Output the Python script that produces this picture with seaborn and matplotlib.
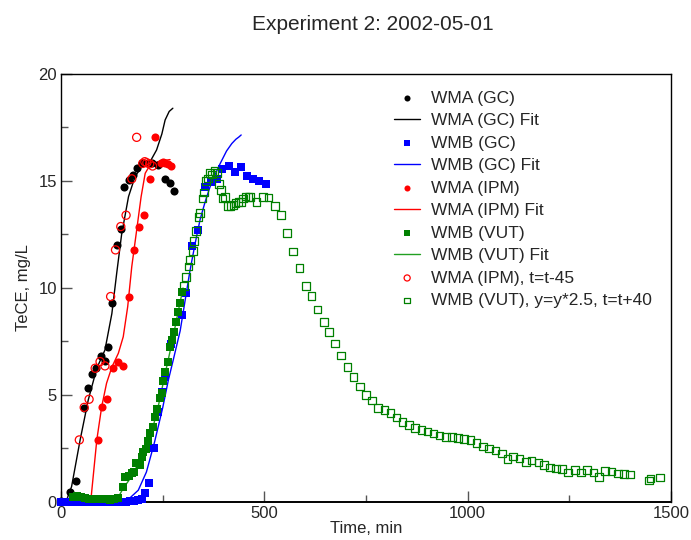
import numpy as np
import pandas as pd
import matplotlib
matplotlib.use("Agg")
import matplotlib.pyplot as plt
import seaborn as sns
from matplotlib.ticker import MultipleLocator

# ---- data ----
wma_gc_t = [0, 22, 36, 57, 66, 75, 85, 98, 108, 116, 126, 137, 147, 156, 166, 178, 186, 200, 215, 224, 239, 256, 268, 278]
wma_gc_y = [0.05, 0.45, 0.97, 4.38, 5.31, 6.0, 6.25, 6.8, 6.6, 7.26, 9.31, 12.0, 12.76, 14.7, 15.05, 15.28, 15.6, 15.82, 15.82, 15.85, 15.75, 15.1, 14.9, 14.53]

wma_gc_fit_t = [10, 14, 26, 47, 67, 88, 108, 125, 137, 149, 166, 182, 198, 219, 235, 248, 256, 266, 275]
wma_gc_fit_y = [0.0, 0.1, 0.72, 2.9, 4.77, 6.25, 7.1, 8.8, 10.7, 12.5, 14.27, 15.2, 15.67, 15.9, 16.45, 17.2, 17.85, 18.25, 18.4]

wmb_gc_t = [0, 10, 20, 30, 40, 50, 60, 70, 80, 90, 100, 110, 120, 130, 140, 150, 160, 170, 180, 190, 198,
            207, 217, 228, 239, 248, 256, 264, 270, 278, 297, 308, 321, 338, 354, 368, 383, 397, 413, 428, 443, 458, 473, 488, 503]
wmb_gc_y = [0.02, 0.02, 0.02, 0.02, 0.02, 0.02, 0.02, 0.02, 0.02, 0.02, 0.02, 0.02, 0.02, 0.02, 0.02, 0.02, 0.02, 0.05, 0.05, 0.1, 0.15,
            0.4, 0.9, 2.54, 4.22, 5.16, 5.86, 6.56, 7.4, 7.96, 8.74, 9.75, 11.96, 12.7, 14.73, 14.97, 15.08, 15.55, 15.7, 15.43, 15.64, 15.23, 15.08, 15.0, 14.85]

wmb_gc_fit_t = [150, 170, 190, 210, 230, 250, 264, 276, 293, 305, 317, 330, 342, 354, 366, 380, 391, 407, 420, 430, 437, 443]
wmb_gc_fit_y = [0.0, 0.2, 0.55, 1.4, 2.8, 4.4, 5.7, 6.64, 8.0, 9.4, 10.8, 12.1, 13.2, 14.0, 14.7, 15.35, 15.8, 16.4, 16.75, 16.95, 17.05, 17.15]

wma_ipm_t = [90, 102, 114, 129, 141, 153, 167, 179, 192, 205, 219, 231, 246, 251, 256, 263, 270]
wma_ipm_y = [2.9, 4.42, 4.8, 6.25, 6.56, 6.36, 9.6, 11.78, 12.87, 13.4, 15.1, 17.04, 15.82, 15.9, 15.85, 15.8, 15.7]

wma_ipm_fit_t = [73, 75, 88, 100, 112, 125, 141, 153, 164, 174, 186, 197, 207, 219, 231, 250, 268]
wma_ipm_fit_y = [0.0, 0.4, 2.9, 4.45, 5.55, 6.3, 6.95, 7.72, 9.13, 11.0, 12.7, 14.27, 15.36, 15.75, 15.86, 15.95, 16.0]

wmb_vut_t = [30, 40, 50, 60, 70, 80, 90, 100, 110, 120, 130, 140, 152, 157, 166, 174, 180, 184, 193, 198, 202, 209, 213,
             219, 225, 231, 237, 243, 248, 252, 256, 262, 268, 272, 278, 282, 287, 293, 297]
wmb_vut_y = [0.25, 0.28, 0.22, 0.18, 0.15, 0.12, 0.12, 0.12, 0.12, 0.1, 0.15, 0.2, 0.7, 1.18, 1.21, 1.34, 1.42, 1.84, 1.71, 2.12, 2.35, 2.46, 2.86,
             3.24, 3.49, 3.99, 4.33, 4.85, 5.11, 5.67, 6.09, 6.56, 7.26, 7.57, 7.96, 8.43, 8.89, 9.28, 9.83]

wmb_vut_fit_t = [128, 140, 153, 174, 194, 210, 225, 240, 255, 270, 285, 300]
wmb_vut_fit_y = [0.0, 0.2, 0.64, 1.2, 1.96, 2.6, 3.4, 4.55, 5.9, 7.2, 8.6, 10.0]

wma_ipm45_t = [45, 57, 69, 84, 96, 108, 122, 134, 147, 160, 174, 186, 201, 206, 211, 218, 225]
wma_ipm45_y = [2.9, 4.42, 4.8, 6.25, 6.56, 6.36, 9.6, 11.78, 12.87, 13.4, 15.1, 17.04, 15.82, 15.9, 15.85, 15.8, 15.7]

wmb_vut40_t = [302, 307, 313, 317, 324, 327, 332, 338, 342, 348, 352, 357, 362, 366, 372, 377, 383, 388, 393, 397, 403,
               411, 417, 424, 429, 436, 443, 448, 454, 461, 465, 481, 496, 510, 526, 541, 556, 571, 586, 602, 616, 631, 647, 659,
               674, 689, 704, 719, 735, 750, 765, 780, 795, 810, 825, 840, 855, 870, 886, 901, 916, 931, 946, 961, 976, 991,
               1007, 1022, 1037, 1053, 1068, 1084, 1098, 1112, 1127, 1143, 1157, 1174, 1188, 1202, 1217, 1232, 1247, 1264,
               1278, 1294, 1309, 1323, 1338, 1354, 1369, 1384, 1399, 1446, 1450, 1473]
wmb_vut40_y = [10.1, 10.5, 11.0, 11.3, 11.73, 12.2, 12.66, 13.33, 13.49, 14.19, 14.47, 15.0, 15.12, 15.36, 15.31, 15.47, 15.36, 14.85, 14.58, 14.19, 14.24,
               13.83, 13.83, 13.88, 13.96, 14.03, 14.03, 14.19, 14.27, 14.24, 14.24, 14.03, 14.24, 14.22, 13.83, 13.41, 12.56, 11.7, 10.92, 10.09, 9.63, 9.0, 8.4, 7.93,
               7.4, 6.85, 6.3, 5.85, 5.4, 5.0, 4.75, 4.4, 4.3, 4.15, 3.95, 3.75, 3.6, 3.45, 3.35, 3.3, 3.2, 3.1, 3.05, 3.05, 3.0, 2.95,
               2.9, 2.75, 2.6, 2.5, 2.4, 2.27, 2.0, 2.12, 2.04, 1.87, 1.93, 1.84, 1.73, 1.62, 1.57, 1.53, 1.37, 1.5,
               1.37, 1.5, 1.37, 1.18, 1.46, 1.42, 1.34, 1.31, 1.29, 1.0, 1.1, 1.14]

title = "Experiment 2: 2002-05-01"
xlabel = "Time, min"
ylabel = "TeCE, mg/L"

# ---- style ----
sns.set_style("white")
plt.rcParams['font.family'] = ['Liberation Sans', 'DejaVu Sans']

fig = plt.figure(figsize=(6.91, 5.4), dpi=100)
ax = fig.add_axes([0.0883, 0.0704, 0.8828, 0.7926])

def df(t, y):
    return pd.DataFrame({"t": t, "y": y})

ms = 34
lw = 1.0

sns.scatterplot(data=df(wma_gc_t, wma_gc_y), x="t", y="y", ax=ax, color="black", marker="o",
                s=ms, linewidth=0, label="WMA (GC)", clip_on=False, zorder=3)
sns.lineplot(data=df(wma_gc_fit_t, wma_gc_fit_y), x="t", y="y", ax=ax, color="black", lw=lw,
             label="WMA (GC) Fit", sort=False, estimator=None)
sns.scatterplot(data=df(wmb_gc_t, wmb_gc_y), x="t", y="y", ax=ax, color="#0000ff", marker="s",
                s=ms, linewidth=0, label="WMB (GC)", clip_on=False, zorder=3)
sns.lineplot(data=df(wmb_gc_fit_t, wmb_gc_fit_y), x="t", y="y", ax=ax, color="#0000ff", lw=lw,
             label="WMB (GC) Fit", sort=False, estimator=None)
sns.scatterplot(data=df(wma_ipm_t, wma_ipm_y), x="t", y="y", ax=ax, color="#ff0000", marker="o",
                s=ms, linewidth=0, label="WMA (IPM)", clip_on=False, zorder=3)
sns.lineplot(data=df(wma_ipm_fit_t, wma_ipm_fit_y), x="t", y="y", ax=ax, color="#ff0000", lw=lw,
             label="WMA (IPM) Fit", sort=False, estimator=None)
sns.scatterplot(data=df(wmb_vut_t, wmb_vut_y), x="t", y="y", ax=ax, color="#008000", marker="s",
                s=ms, linewidth=0, label="WMB (VUT)", clip_on=False, zorder=3)
sns.lineplot(data=df(wmb_vut_fit_t, wmb_vut_fit_y), x="t", y="y", ax=ax, color="#22a022", lw=lw,
             label="WMB (VUT) Fit", sort=False, estimator=None)
sns.scatterplot(data=df(wma_ipm45_t, wma_ipm45_y), x="t", y="y", ax=ax, marker="o",
                s=ms, facecolor="none", edgecolor="#ff0000", linewidth=0.9, label="WMA (IPM), t=t-45",
                clip_on=False, zorder=3)
sns.scatterplot(data=df(wmb_vut40_t, wmb_vut40_y), x="t", y="y", ax=ax, marker="s",
                s=30, facecolor="none", edgecolor="#008000", linewidth=0.9,
                label="WMB (VUT), y=y*2.5, t=t+40", clip_on=False, zorder=3)

ax.set_xlim(0, 1500)
ax.set_ylim(0, 20)
ax.xaxis.set_major_locator(MultipleLocator(500))
ax.xaxis.set_minor_locator(MultipleLocator(250))
ax.yaxis.set_major_locator(MultipleLocator(5))
ax.yaxis.set_minor_locator(MultipleLocator(2.5))
ax.tick_params(which="both", direction="in", bottom=True, left=True, top=False, right=False,
               color="#555555", width=1)
ax.tick_params(which="major", length=8, labelsize=12, pad=3)
ax.tick_params(which="minor", length=5)
for s in ax.spines.values():
    s.set_color("black")
    s.set_linewidth(1.0)
ax.spines["bottom"].set_linewidth(1.4)

ax.set_xlabel(xlabel, fontsize=12, labelpad=0)
ax.set_ylabel(ylabel, fontsize=12, labelpad=5)
fig.text(0.54, 0.955, title, fontsize=15, ha="center", va="center")

leg = ax.legend(loc="upper right", bbox_to_anchor=(0.985, 0.985), frameon=False, fontsize=12.5,
                handlelength=1.5, handletextpad=0.6, labelspacing=0.42, markerscale=0.75,
                borderaxespad=0.2)

fig.savefig("out.png", dpi=100)
